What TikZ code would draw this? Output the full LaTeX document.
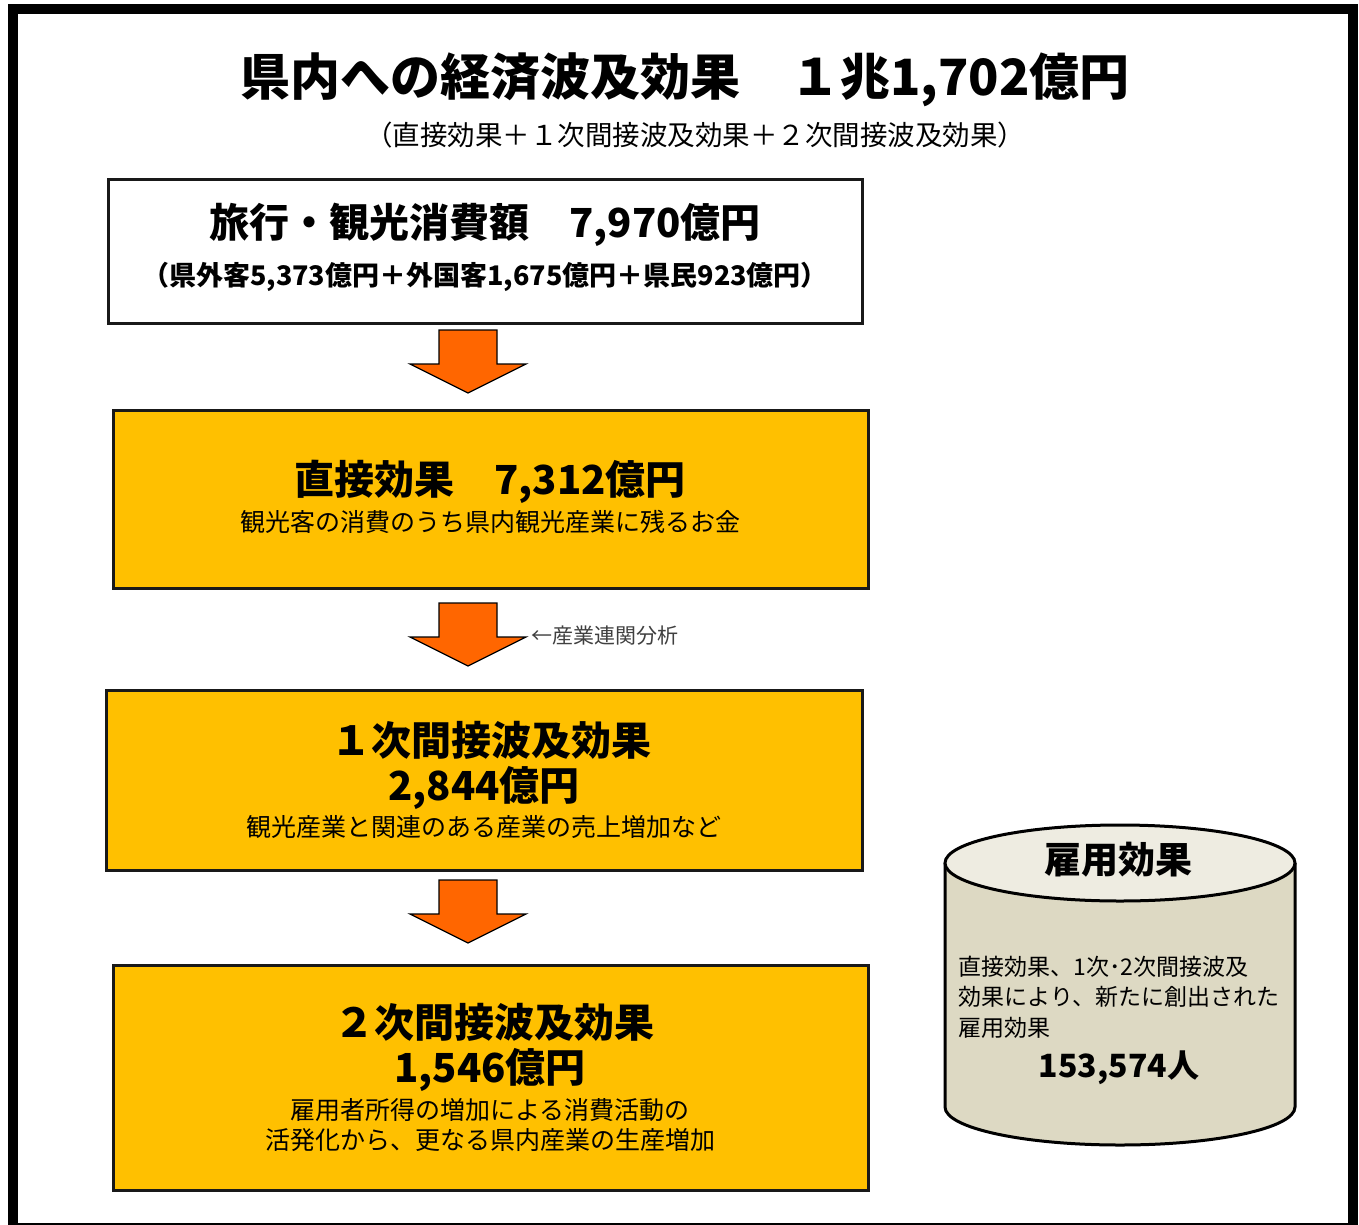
\documentclass[tikz,border=0pt]{standalone}
\usepackage{fontspec}
\setmainfont{Noto Sans CJK JP}

\definecolor{effectfill}{HTML}{FFC000}
\definecolor{arrowfill}{HTML}{FF6600}
\definecolor{drumtop}{HTML}{EEECE1}
\definecolor{drumbody}{HTML}{DDD9C3}

\begin{document}
\begin{tikzpicture}[x=1pt,y=-1pt,
  box/.style={draw=black!90, line width=3pt, inner sep=0pt},
  head/.style={font=\bfseries\fontsize{40}{44}\selectfont},
  note/.style={font=\fontsize{25}{28}\selectfont},
  fatarrow/.pic={\draw[fill=arrowfill, line width=1.2pt, line join=miter]
      (-29,0) -- (29,0) -- (29,34) -- (58,34) -- (0,63) -- (-58,34) -- (-29,34) -- cycle;}]
\useasboundingbox (0,0) rectangle (1359,1225);
\fill[white] (0,0) rectangle (1359,1225);
\draw[line width=10pt] (13,9) rectangle (1353,1228);

\node[font=\bfseries\fontsize{50}{56}\selectfont] (title) at (685,80) {県内への経済波及効果　１兆1,702億円};
\node[font=\fontsize{27.5}{30}\selectfont] (subtitle) at (695,135) {（直接効果＋１次間接波及効果＋２次間接波及効果）};

\node[box, fill=white, minimum width=754pt, minimum height=143pt] (spend) at (485,251.5) {};
\node[head] (spendA) at (485,225) {旅行・観光消費額　7,970億円};
\node[font=\bfseries\fontsize{27}{30}\selectfont] (spendB) at (485,277) {（県外客5,373億円＋外国客1,675億円＋県民923億円）};

\node[box, fill=effectfill, minimum width=755pt, minimum height=178pt] (direct) at (490.5,499) {};
\node[head] (directA) at (490,482) {直接効果　7,312億円};
\node[note] (directB) at (490,522) {観光客の消費のうち県内観光産業に残るお金};

\node[box, fill=effectfill, minimum width=756pt, minimum height=180pt] (first) at (484,780) {};
\node[head] (firstA) at (491,740) {１次間接波及効果};
\node[head] (firstB) at (484,788) {2,844億円};
\node[note] (firstC) at (484,827) {観光産業と関連のある産業の売上増加など};

\node[box, fill=effectfill, minimum width=755pt, minimum height=225pt] (second) at (490.5,1077.5) {};
\node[head] (secondA) at (494,1022) {２次間接波及効果};
\node[head] (secondB) at (490,1070) {1,546億円};
\node[note] (secondC) at (490,1110) {雇用者所得の増加による消費活動の};
\node[note] (secondD) at (490,1140) {活発化から、更なる県内産業の生産増加};

% arrows between the boxes
\pic at (468,330) {fatarrow};
\pic at (468,603) {fatarrow};
\pic at (468,880) {fatarrow};
\node[anchor=west, text=black!75, font=\fontsize{21}{24}\selectfont] (io) at (528,636) {←産業連関分析};

% employment drum
\draw[fill=drumbody, line width=3pt] (945,863) -- (945,1107)
  arc[start angle=180, end angle=0, x radius=175, y radius=38] -- (1295,863);
\draw[fill=drumtop, line width=3pt] (1120,863) ellipse[x radius=175, y radius=38];
\node[font=\bfseries\fontsize{37}{40}\selectfont] (jobs) at (1118,860) {雇用効果};
\node[anchor=west, align=left, font=\fontsize{23}{30.5}\selectfont] (jobsB) at (955,997)
  {直接効果、1次･2次間接波及\\効果により、新たに創出された\\雇用効果};
\node[font=\bfseries\fontsize{32}{36}\selectfont] (jobsC) at (1119,1068) {153,574人};
\end{tikzpicture}
\end{document}
